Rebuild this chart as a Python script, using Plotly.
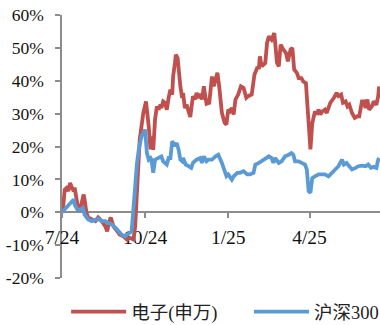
import plotly.graph_objects as go

# 电子(申万) cumulative return (%)
elec_dates = ["2024-07-01","2024-07-02","2024-07-04","2024-07-06","2024-07-08","2024-07-10","2024-07-12","2024-07-14","2024-07-15","2024-07-17","2024-07-19","2024-07-21","2024-07-23","2024-07-25","2024-07-26","2024-07-28","2024-07-30","2024-08-03","2024-08-07","2024-08-10","2024-08-14","2024-08-18","2024-08-20","2024-08-22","2024-08-24","2024-08-27","2024-08-31","2024-09-03","2024-09-07","2024-09-11","2024-09-14","2024-09-18","2024-09-20","2024-09-22","2024-09-24","2024-09-25","2024-09-29","2024-10-02","2024-10-05","2024-10-07","2024-10-08","2024-10-10","2024-10-12","2024-10-14","2024-10-16","2024-10-18","2024-10-19","2024-10-21","2024-10-23","2024-10-25","2024-10-27","2024-10-29","2024-10-31","2024-11-01","2024-11-03","2024-11-04","2024-11-06","2024-11-07","2024-11-09","2024-11-11","2024-11-12","2024-11-14","2024-11-16","2024-11-18","2024-11-20","2024-11-22","2024-11-23","2024-11-25","2024-11-27","2024-11-29","2024-12-01","2024-12-03","2024-12-05","2024-12-06","2024-12-08","2024-12-11","2024-12-14","2024-12-16","2024-12-19","2024-12-20","2024-12-22","2024-12-25","2024-12-28","2024-12-30","2025-01-01","2025-01-03","2025-01-05","2025-01-07","2025-01-09","2025-01-12","2025-01-15","2025-01-18","2025-01-21","2025-01-23","2025-01-27","2025-01-30","2025-02-02","2025-02-04","2025-02-05","2025-02-07","2025-02-11","2025-02-13","2025-02-15","2025-02-18","2025-02-21","2025-02-22","2025-02-24","2025-02-26","2025-02-28","2025-03-03","2025-03-06","2025-03-08","2025-03-11","2025-03-13","2025-03-15","2025-03-18","2025-03-20","2025-03-23","2025-03-25","2025-03-28","2025-03-30","2025-04-01","2025-04-02","2025-04-04","2025-04-06","2025-04-07","2025-04-09","2025-04-11","2025-04-13","2025-04-15","2025-04-17","2025-04-18","2025-04-20","2025-04-22","2025-04-24","2025-04-28","2025-05-01","2025-05-03","2025-05-06","2025-05-08","2025-05-11","2025-05-13","2025-05-15","2025-05-18","2025-05-21","2025-05-24","2025-05-26","2025-05-29","2025-05-31","2025-06-02","2025-06-04","2025-06-06","2025-06-09","2025-06-11","2025-06-14","2025-06-16","2025-06-17"]
elec_values = [0.0,0.8,6.9,7.4,6.4,8.9,7.5,6.4,7.5,3.9,0.8,0.8,2.9,5.4,3.9,0.0,-1.6,-2.2,-2.7,-1.6,-2.7,-4.3,-5.8,-3.1,-1.6,-4.3,-5.8,-6.8,-7.3,-8.3,-7.8,-8.3,-4.3,6.0,15.0,22.1,30.2,33.7,26.1,19.1,23.1,19.0,28.2,32.2,31.2,32.7,31.7,33.7,33.3,31.2,34.8,37.3,35.8,41.3,45.4,47.9,46.9,43.4,38.3,34.8,36.3,31.7,32.7,30.7,29.0,33.3,35.3,34.3,36.3,34.8,36.0,34.3,38.3,36.3,33.0,33.3,41.3,38.3,41.3,42.4,38.3,30.2,27.2,26.7,31.2,30.7,31.7,29.7,34.3,35.8,38.3,37.8,34.8,35.3,35.8,41.8,43.9,44.0,47.4,44.4,45.4,51.5,53.5,52.5,54.5,51.5,45.4,44.4,51.0,49.5,48.4,45.9,49.5,50.0,43.4,42.4,40.8,40.8,39.8,39.3,31.2,21.0,19.1,27.0,30.2,30.7,29.7,31.2,29.7,30.7,31.0,31.2,30.2,32.2,33.3,34.8,36.3,35.3,35.8,33.3,33.7,32.2,32.7,30.2,28.7,29.2,29.2,33.7,33.7,31.7,34.3,31.2,32.2,33.7,32.7,35.3,38.3]

# 沪深300 cumulative return (%)
hs300_dates = ["2024-07-01","2024-07-02","2024-07-06","2024-07-10","2024-07-14","2024-07-15","2024-07-18","2024-07-21","2024-07-24","2024-07-26","2024-07-30","2024-08-03","2024-08-07","2024-08-10","2024-08-14","2024-08-18","2024-08-21","2024-08-25","2024-08-29","2024-09-01","2024-09-05","2024-09-09","2024-09-12","2024-09-16","2024-09-18","2024-09-20","2024-09-22","2024-09-24","2024-09-27","2024-10-01","2024-10-03","2024-10-05","2024-10-07","2024-10-08","2024-10-10","2024-10-12","2024-10-16","2024-10-19","2024-10-21","2024-10-25","2024-10-27","2024-10-29","2024-10-31","2024-11-03","2024-11-05","2024-11-07","2024-11-09","2024-11-11","2024-11-12","2024-11-15","2024-11-18","2024-11-21","2024-11-23","2024-11-27","2024-12-01","2024-12-03","2024-12-05","2024-12-08","2024-12-10","2024-12-14","2024-12-18","2024-12-21","2024-12-25","2024-12-28","2024-12-30","2025-01-01","2025-01-05","2025-01-07","2025-01-11","2025-01-14","2025-01-18","2025-01-22","2025-01-25","2025-01-29","2025-01-31","2025-02-04","2025-02-07","2025-02-11","2025-02-15","2025-02-18","2025-02-20","2025-02-22","2025-02-26","2025-03-01","2025-03-05","2025-03-09","2025-03-12","2025-03-14","2025-03-16","2025-03-20","2025-03-24","2025-03-27","2025-03-29","2025-03-31","2025-04-02","2025-04-04","2025-04-07","2025-04-11","2025-04-15","2025-04-18","2025-04-22","2025-04-26","2025-04-29","2025-05-03","2025-05-07","2025-05-09","2025-05-12","2025-05-15","2025-05-18","2025-05-22","2025-05-25","2025-05-29","2025-06-02","2025-06-05","2025-06-08","2025-06-11","2025-06-14","2025-06-16","2025-06-17"]
hs300_values = [0.0,0.3,1.8,2.9,3.9,2.3,0.8,0.8,1.3,-0.7,-2.2,-2.7,-2.2,-2.0,-2.7,-2.7,-3.2,-3.7,-4.7,-5.8,-6.8,-7.3,-6.8,-5.8,0.8,9.9,15.0,19.1,23.1,25.1,18.0,16.0,16.5,16.0,12.0,16.0,16.5,17.0,15.5,14.5,16.5,16.5,21.6,20.1,21.1,19.1,16.0,15.5,16.5,14.5,14.0,13.5,15.0,16.0,16.5,15.0,17.0,15.5,16.0,16.0,17.0,17.5,15.0,12.0,11.0,11.5,9.9,10.9,12.0,12.0,12.5,11.5,11.5,12.0,14.5,15.0,15.5,16.0,17.0,16.5,15.0,16.5,15.0,15.5,17.0,17.5,18.0,17.5,15.5,15.5,15.0,14.5,13.0,6.4,5.9,10.4,10.9,11.5,11.5,11.5,10.9,12.0,13.0,14.0,16.0,14.5,15.0,14.0,13.0,13.5,14.0,14.2,14.0,14.5,13.5,13.8,13.5,16.0,16.5]

y_tickvals = [-20, -10, 0, 10, 20, 30, 40, 50, 60]
y_ticktext = ["-20%", "-10%", "0%", "10%", "20%", "30%", "40%", "50%", "60%"]

serif = "Liberation Serif"
axis_gray = "#8c8c8c"

fig = go.Figure()
fig.add_trace(go.Scatter(x=elec_dates, y=elec_values, mode="lines", name="电子(申万)",
                         line=dict(color="#C0504D", width=3.8), legend="legend"))
fig.add_trace(go.Scatter(x=hs300_dates, y=hs300_values, mode="lines", name="沪深300",
                         line=dict(color="#5B9BD5", width=3.8), legend="legend2"))

legend_font = dict(family="Liberation Serif, Noto Sans CJK SC", size=18.5, color="#222")
ymin, ymax = -20, 60
fig.update_layout(
    width=380, height=325,
    margin=dict(l=62, r=0, t=15, b=47, autoexpand=False),
    paper_bgcolor="white", plot_bgcolor="white",
    showlegend=True,
    legend=dict(orientation="h", x=0.013, xanchor="left", y=-0.13, yanchor="middle",
                font=legend_font, itemwidth=55, bgcolor="rgba(0,0,0,0)"),
    legend2=dict(orientation="h", x=0.588, xanchor="left", y=-0.13, yanchor="middle",
                 font=legend_font, itemwidth=55, bgcolor="rgba(0,0,0,0)"),
    xaxis=dict(type="date", range=["2024-07-01", "2025-06-18"],
               tick0="2024-07-01", dtick="M3", tickformat="%-m/%y",
               anchor="free", position=(0 - ymin) / (ymax - ymin),
               showline=True, linecolor=axis_gray, linewidth=1.5,
               ticks="outside", ticklen=5, tickcolor=axis_gray, tickwidth=1.5,
               ticklabelstandoff=3, automargin=False,
               showgrid=False, zeroline=False, layer="below traces",
               tickfont=dict(family=serif, size=19.5, color="#111")),
    yaxis=dict(range=[ymin, ymax], tickvals=y_tickvals, ticktext=y_ticktext,
               showline=True, linecolor=axis_gray, linewidth=1.5,
               ticks="outside", ticklen=5, tickcolor=axis_gray, tickwidth=1.5,
               ticklabelstandoff=8, automargin=False,
               showgrid=False, zeroline=False, layer="below traces",
               tickfont=dict(family=serif, size=17.5, color="#111")),
)

fig.write_html("out.html", config={"displayModeBar": False},
               post_script="document.body.style.margin='0';document.body.style.padding='0';")
